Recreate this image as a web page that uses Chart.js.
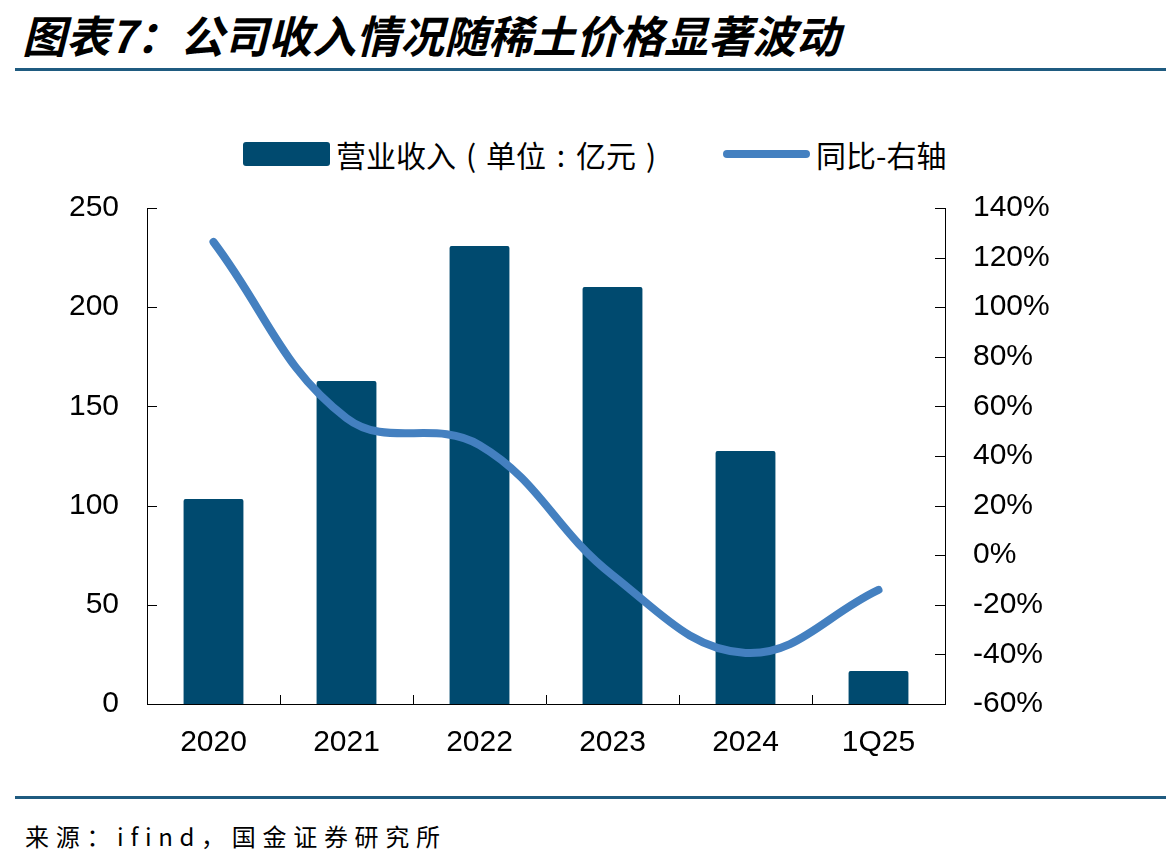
<!DOCTYPE html>
<html>
<head>
<meta charset="utf-8">
<script src="https://cdn.jsdelivr.net/npm/chart.js@4"></script>
<style>
  body { margin: 0; width: 1166px; height: 866px; background: #fff; position: relative; overflow: hidden; font-family: "Noto Sans CJK SC", sans-serif; }
  #title { position: absolute; left: 22px; top: 2px; font-size: 44px; font-weight: bold; font-style: italic; color: #000; white-space: nowrap; }
  .rule { position: absolute; left: 15px; right: 0; height: 3px; background: #1f5b80; }
  .legend-item { position: absolute; top: 136px; font-size: 30px; display: flex; align-items: center; white-space: nowrap; line-height: 36px; }
  .p { display: inline-block; width: 1em; text-align: center; }
  .swatch-bar { width: 87px; height: 24px; background: #004a6f; border-radius: 3px; margin-right: 6px; }
  .swatch-line { width: 87px; height: 8px; background: #4480c0; border-radius: 4px; margin-right: 6px; }
  #source { position: absolute; left: 25px; top: 818px; font-size: 24px; letter-spacing: 6.7px; white-space: nowrap; }
  #wrap { position: absolute; left: 0; top: 162px; width: 1166px; height: 618px; }
</style>
</head>
<body>
<div id="title">图表7：公司收入情况随稀土价格显著波动</div>
<div class="rule" style="top:68px"></div>
<div class="legend-item" style="left:243px">
  <div class="swatch-bar"></div><span>营业收入<span class="p">(</span>单位<span class="p">:</span>亿元<span class="p">)</span></span>
</div>
<div class="legend-item" style="left:723px">
  <div class="swatch-line"></div><span>同比-右轴</span>
</div>
<div id="wrap"><canvas id="chart"></canvas></div>
<div class="rule" style="top:796px"></div>
<div id="source">来源：ifind，国金证券研究所</div>
<script>
const categories = ["2020", "2021", "2022", "2023", "2024", "1Q25"];
const revenue = [103.3, 162.8, 230.8, 210.2, 127.5, 16.6];
const yoyGrowth = [126.3, 55.3, 44.4, -8.0, -39.4, -14.0];

const leftTicks = [0, 50, 100, 150, 200, 250];
const rightTicks = [-60, -40, -20, 0, 20, 40, 60, 80, 100, 120, 140];

const tickFont = { family: "'Liberation Sans', Arial, sans-serif", size: 30 };

// all axis ticks point into the plot area
const innerTicks = {
  id: "innerTicks",
  afterDraw(chart) {
    const ctx = chart.ctx;
    const area = chart.chartArea;
    ctx.save();
    ctx.strokeStyle = "#000";
    ctx.lineWidth = 1;
    ["y", "y1"].forEach((id) => {
      const scale = chart.scales[id];
      const x = id === "y" ? area.left : area.right;
      const dir = id === "y" ? 1 : -1;
      scale.ticks.forEach((t, i) => {
        const py = Math.round(scale.getPixelForTick(i)) + 0.5;
        ctx.beginPath();
        ctx.moveTo(x, py);
        ctx.lineTo(x + dir * 10, py);
        ctx.stroke();
      });
    });
    const xs = chart.scales.x;
    for (let i = 1; i < categories.length; i++) {
      const px = Math.round((xs.getPixelForValue(i - 1) + xs.getPixelForValue(i)) / 2) + 0.5;
      ctx.beginPath();
      ctx.moveTo(px, area.bottom);
      ctx.lineTo(px, area.bottom - 9);
      ctx.stroke();
    }
    ctx.restore();
  },
};

new Chart(document.getElementById("chart"), {
  data: {
    labels: categories,
    datasets: [
      {
        type: "line",
        label: "同比-右轴",
        data: yoyGrowth,
        yAxisID: "y1",
        borderColor: "#4480c0",
        borderWidth: 8,
        borderCapStyle: "round",
        tension: 0.4,
        pointRadius: 0,
        order: 0,
      },
      {
        type: "bar",
        label: "营业收入（单位：亿元）",
        data: revenue,
        yAxisID: "y",
        backgroundColor: "#004a6f",
        barPercentage: 0.45,
        categoryPercentage: 1,
        borderRadius: 2,
        borderSkipped: "bottom",
        order: 1,
      },
    ],
  },
  options: {
    responsive: true,
    maintainAspectRatio: false,
    animation: false,
    layout: { padding: { top: 12, left: 0, right: 0, bottom: 0 } },
    plugins: { legend: { display: false }, tooltip: { enabled: false } },
    scales: {
      x: {
        grid: { display: false, drawTicks: false },
        border: { display: true, color: "#000", width: 1 },
        ticks: { color: "#000", font: tickFont, padding: 21, maxRotation: 0 },
        afterFit(scale) { scale.height = 76; },
      },
      y: {
        position: "left",
        min: 0,
        max: 250,
        afterBuildTicks(scale) { scale.ticks = leftTicks.map((v) => ({ value: v })); },
        grid: { display: false, drawTicks: false },
        border: { display: true, color: "#000", width: 1 },
        ticks: { color: "#000", font: tickFont, padding: 28 },
        afterFit(scale) { scale.width = 147; },
      },
      y1: {
        position: "right",
        min: -60,
        max: 140,
        afterBuildTicks(scale) { scale.ticks = rightTicks.map((v) => ({ value: v })); },
        grid: { display: false, drawTicks: false },
        border: { display: true, color: "#000", width: 1 },
        ticks: { color: "#000", font: tickFont, padding: 28, callback: (v) => v + "%" },
        afterFit(scale) { scale.width = 221; },
      },
    },
  },
  plugins: [innerTicks],
});
</script>
</body>
</html>
